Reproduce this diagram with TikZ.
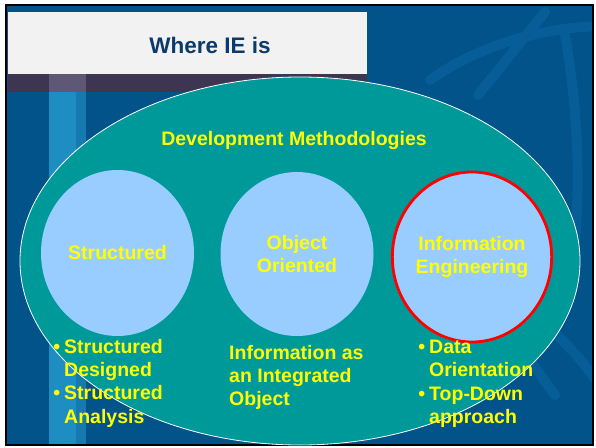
\documentclass[tikz,border=0pt]{standalone}
\usepackage{fontspec}
\setmainfont{Liberation Sans}
\usetikzlibrary{shapes.geometric}

\definecolor{slideblue}{HTML}{01538A}
\definecolor{globeblue}{HTML}{065D98}
\definecolor{stripeblue}{HTML}{1E8EC2}
\definecolor{stripedark}{HTML}{1679B0}
\definecolor{bandpurple}{HTML}{3D3552}
\definecolor{bandlight}{HTML}{5E5876}
\definecolor{titlegray}{HTML}{F2F2F2}
\definecolor{titlenavy}{HTML}{0B3A6B}
\definecolor{methodteal}{HTML}{009999}
\definecolor{methodblue}{HTML}{99CCFF}
\definecolor{hiyellow}{HTML}{FFFF00}

\newcommand{\slidefont}{\bfseries\fontsize{19.5}{23.3}\selectfont}
\newcommand{\bul}{\makebox[0pt][r]{\textbullet\hspace{4pt}}}

\tikzset{
  globe/.style={globeblue, line width=10pt, line cap=round},
  method/.style={ellipse, fill=methodblue, text=hiyellow, align=center,
    minimum width=153pt, font=\slidefont},
  points/.style={text=hiyellow, align=left, anchor=north west, font=\slidefont}
}

\begin{document}
\begin{tikzpicture}[x=1pt,y=-1pt,every node/.style={inner sep=0pt}]
\useasboundingbox (0,0) rectangle (596,447);
\fill[white] (0,0) rectangle (596,447);

% slide background
\fill[slideblue] (6,5) rectangle (593,445);
\begin{scope}
\clip (6,5) rectangle (593,445);
\draw[globe] (478,95) -- (545,12);
\draw[globe] (430,80) .. controls (480,45) and (540,28) .. (600,26);
\draw[globe] (565,35) .. controls (578,110) and (582,190) .. (572,270);
\draw[globe] (515,340) -- (555,395);
\draw[globe] (540,320) .. controls (565,340) and (585,365) .. (600,385);
\end{scope}
\fill[stripeblue] (49,92) rectangle (76,445);
\fill[stripedark] (76,92) rectangle (86,445);

% title
\fill[titlegray] (8,12) rectangle (367,74);
\fill[bandpurple] (8,74) rectangle (367,92);
\fill[bandlight] (49,74) rectangle (86,92);
\node[text=titlenavy, font=\bfseries\fontsize{22.5}{27}\selectfont] (title) at (210,45) {Where IE is};
\draw[black, line width=2.5pt] (6,5) rectangle (593,445);

% big ellipse
\node[ellipse, fill=methodteal, draw=white, line width=0.8pt,
  minimum width=560pt, minimum height=368pt] (devmeth) at (300,261) {};
\node[text=hiyellow, font=\slidefont] (devlabel) at (294,140) {Development Methodologies};

% the three methods
\node[method, minimum height=166pt] (structured) at (117.5,253) {Structured};
\node[method, minimum height=164pt] (objoriented) at (297,254) {Object\\Oriented};
\node[method, minimum height=170pt, draw=red, line width=2.8pt] (infoeng) at (472,257) {Information\\Engineering};

% notes under each
\node[points] (structpts) at (64,339) {\bul Structured\\Designed\\\bul Structured\\Analysis};
\node[points] (objpts) at (229,345) {Information as\\an Integrated\\Object};
\node[points] (iepts) at (429,340) {\bul Data\\Orientation\\\bul Top-Down\\approach};

\end{tikzpicture}
\end{document}
